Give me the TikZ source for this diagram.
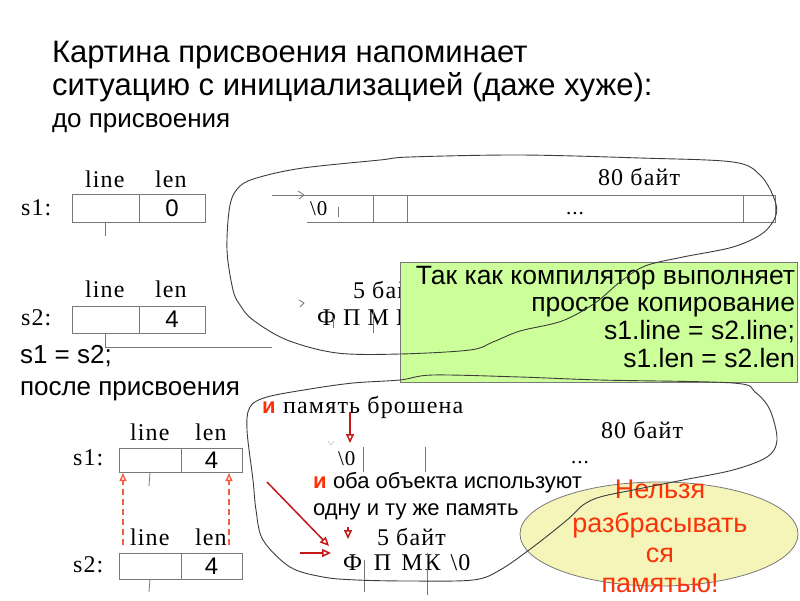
\documentclass[tikz,border=0pt]{standalone}
\usepackage{fontspec}
\setmainfont{Liberation Sans}
\newfontfamily\serif[LetterSpace=5]{Liberation Serif}
\usetikzlibrary{arrows.meta,shapes.geometric}
\definecolor{boxgray}{RGB}{120,120,120}
\definecolor{penline}{RGB}{60,60,60}
\definecolor{notegreen}{RGB}{204,255,153}
\definecolor{noteyellow}{RGB}{245,245,185}
\definecolor{warnred}{RGB}{250,50,10}
\definecolor{arrred}{RGB}{195,25,25}
\definecolor{dashred}{RGB}{240,95,65}
\tikzset{
  every node/.style={inner sep=0pt, outer sep=0pt},
  titletxt/.style={anchor=base west, font=\fontsize{31}{34}\selectfont},
  txt/.style={anchor=base west, font=\fontsize{26}{28}\selectfont},
  notetxt/.style={anchor=base east, font=\fontsize{26.5}{28}\selectfont},
  small/.style={anchor=base west, font=\fontsize{22}{26}\selectfont},
  ser/.style={anchor=base west, font=\serif\fontsize{24}{26}\selectfont},
  sersmall/.style={anchor=base west, font=\serif\fontsize{21}{24}\selectfont},
  cell/.style={draw=boxgray, line width=0.8pt, anchor=north west, font=\fontsize{24}{24}\selectfont},
  memline/.style={draw=boxgray, line width=0.8pt},
  pen/.style={draw=penline, line width=0.9pt},
  redarrow/.style={draw=arrred, line width=1.5pt, -{Triangle[open, length=9pt, width=8pt]}},
  dasharrow/.style={draw=dashred, line width=1.4pt, dash pattern=on 6pt off 4pt, -{Triangle[open, length=8pt, width=7pt]}},
  warn/.style={anchor=base, font=\fontsize{27}{28}\selectfont, text=warnred},
}
\begin{document}
\begin{tikzpicture}[x=1pt, y=-1pt]
\useasboundingbox (0,0) rectangle (800,600);
\fill[white] (0,0) rectangle (800,600);

% ---------- title ----------
\node[titletxt] (t1) at (52,62) {Картина присвоения напоминает};
\node[titletxt] (t2) at (52,95) {ситуацию с инициализацией (даже хуже):};
\node[txt] (t3) at (52,127) {до присвоения};

% ---------- before: s1 ----------
\node[ser] (l1a) at (85,187) {line};
\node[ser] (l1b) at (155,187) {len};
\node[ser] (s1lab) at (21,215) {s1:};
\node[cell, minimum width=67pt, minimum height=28pt] (s1line) at (72,194) {};
\node[cell, minimum width=66pt, minimum height=28pt] (s1len) at (s1line.north east) {0};
\coordinate (s1end) at (105.5,236);
\draw[memline] (s1line.south) -- (s1end);

% ---------- before: s2 ----------
\node[ser] (l2a) at (85,297) {line};
\node[ser] (l2b) at (155,297) {len};
\node[ser] (s2lab) at (21,325) {s2:};
\node[cell, minimum width=67pt, minimum height=27pt] (s2line) at (72,306) {};
\node[cell, minimum width=66pt, minimum height=27pt] (s2len) at (s2line.north east) {4};
\coordinate (s2bend) at (105.5,347);
\coordinate (s2end) at (272,347);
\draw[memline] (s2line.south) -- (s2bend) -- (s2end);

% ---------- top memory (80 bytes) ----------
\node[ser] (m1size) at (598,185) {80 байт};
\coordinate (m1ptr) at (272,195);
\draw[memline] (m1ptr) -- (775,195) -- (775,222) -- (307,222);
\draw[memline] (298,191) -- (304,195) -- (299,199);
\draw[memline] (373,195) -- (373,222);
\draw[memline] (407,195) -- (407,222);
\draw[memline] (743,195) -- (743,222);
\draw[memline, line width=0.5pt] (338,207) -- (338,217);
\node[sersmall] (m1zero) at (310,215) {\textbackslash 0};
\node[sersmall] (m1dots) at (566,214) {...};

% ---------- top memory (5 bytes), partly hidden ----------
\node[ser] (m2size) at (353,298) {5 байт};
\draw[memline] (299,300) -- (304,303) -- (300,307);
\node[ser] (m2text) at (317,325) {Ф П М К \textbackslash 0};
\draw[memline, line width=0.5pt] (333,318) -- (333,328);
\draw[memline] (373,311) -- (373,333);

% ---------- green note ----------
\node[draw=boxgray, fill=notegreen, line width=0.8pt, anchor=north west,
      minimum width=397pt, minimum height=120pt] (note) at (400,262) {};
\node[notetxt] (n1) at (795,284) {Так как компилятор выполняет};
\node[notetxt] (n2) at (795,311) {простое копирование};
\node[notetxt] (n3) at (795,339) {s1.line = s2.line;};
\node[notetxt] (n4) at (795,367) {s1.len = s2.len};

% ---------- left texts ----------
\node[txt] (eq) at (20,363) {s1 = s2;};
\node[txt] (after) at (20,395) {после присвоения};

% ---------- after: s1 ----------
\node[ser] (l3a) at (130,440) {line};
\node[ser] (l3b) at (195,440) {len};
\node[ser] (s3lab) at (73,465) {s1:};
\node[cell, minimum width=62pt, minimum height=24pt] (s3line) at (119,448) {};
\node[cell, minimum width=61pt, minimum height=24pt] (s3len) at (s3line.north east) {4};
\coordinate (s3end) at (149,486);
\draw[memline] (s3line.south) -- (s3end);

% ---------- after: s2 ----------
\node[ser] (l4a) at (130,545) {line};
\node[ser] (l4b) at (195,545) {len};
\node[ser] (s4lab) at (73,572) {s2:};
\node[cell, minimum width=62pt, minimum height=26pt] (s4line) at (119,553) {};
\node[cell, minimum width=61pt, minimum height=26pt] (s4len) at (s4line.north east) {4};
\coordinate (s4end) at (149,592);
\draw[memline] (s4line.south) -- (s4end);

% dashed copy arrows
\coordinate (dAfrom) at (123,545);
\coordinate (dAto) at (123,473);
\coordinate (dBfrom) at (229,545);
\coordinate (dBto) at (229,473);
\draw[dasharrow] (dAfrom) -- (dAto);
\draw[dasharrow] (dBfrom) -- (dBto);

% ---------- after: memory ----------
\node[small, font=\bfseries\fontsize{22}{26}\selectfont, text=warnred] (r1i) at (262,413) {и};
\node[ser] (r1t) at (283,413) {память брошена};
\coordinate (rA1) at (350,412);
\coordinate (rA2) at (350,443);
\draw[redarrow] (rA1) -- (rA2);
\draw[boxgray!50, line width=0.5pt] (328,441) -- (331,445) -- (334,441);
\node[sersmall] (m3zero) at (338,465) {\textbackslash 0};
\draw[memline] (363,447) -- (363,472);
\draw[memline] (425,447) -- (425,472);
\node[ser] (m3size) at (601,438) {80 байт};
\node[sersmall] (m3dots) at (571,463) {...};

\node[small, font=\bfseries\fontsize{22}{26}\selectfont, text=warnred] (r2i) at (313,488) {и};
\node[small] (r2t) at (333,488) {оба объекта используют};
\node[small] (r3t) at (313,515) {одну и ту же память};

\coordinate (rB1) at (267,482);
\coordinate (rB2) at (329,546);
\draw[redarrow] (rB1) -- (rB2);
\coordinate (rC1) at (300,553);
\coordinate (rC2) at (331,553);
\draw[redarrow] (rC1) -- (rC2);
\coordinate (rD1) at (348,527);
\coordinate (rD2) at (348,539);
\draw[redarrow] (rD1) -- (rD2);

\node[ser] (m4size) at (377,545) {5 байт};
\node[ser] (m4text) at (343,570) {Ф\hspace{12pt}П\hspace{10pt}М\hspace{2pt}К\hspace{10pt}\textbackslash 0};
\draw[memline] (364,560) -- (364,592);
\draw[memline] (427,553) -- (427,595);

% ---------- yellow warning ----------
\node[ellipse, draw=boxgray, fill=noteyellow, line width=0.8pt,
      minimum width=278pt, minimum height=104pt] (warnell) at (659,534) {};
\node[warn] (w1) at (660,498) {Нельзя};
\node[warn] (w2) at (660,532) {разбрасывать};
\node[warn] (w3) at (660,562) {ся};
\node[warn] (w4) at (660,592) {памятью!};

% ---------- freehand outlines ----------
\draw[pen] plot[smooth cycle, tension=0.55] coordinates {
 (410,157) (520,155) (640,158) (733,162) (760,175) (774,198) (776,215)
 (763,233) (733,247) (683,257) (645,266) (620,282) (595,303) (562,321)
 (520,331) (493,342) (470,350) (400,354) (337,353) (287,340) (253,320)
 (240,305) (233,290) (227,250) (230,205) (240,186) (260,177) (303,168) (380,160)};
\draw[pen] plot[smooth cycle, tension=0.55] coordinates {
 (267,397) (310,389) (353,383) (400,380) (433,375) (520,377) (600,380)
 (733,383) (755,392) (770,410) (777,440) (767,457) (733,470) (683,480)
 (633,490) (600,497) (583,505) (567,520) (533,547) (500,570) (473,580)
 (410,581) (357,580) (323,577) (290,567) (263,540) (256,510) (253,480)
 (247,430) (250,407)};
\end{tikzpicture}
\end{document}
